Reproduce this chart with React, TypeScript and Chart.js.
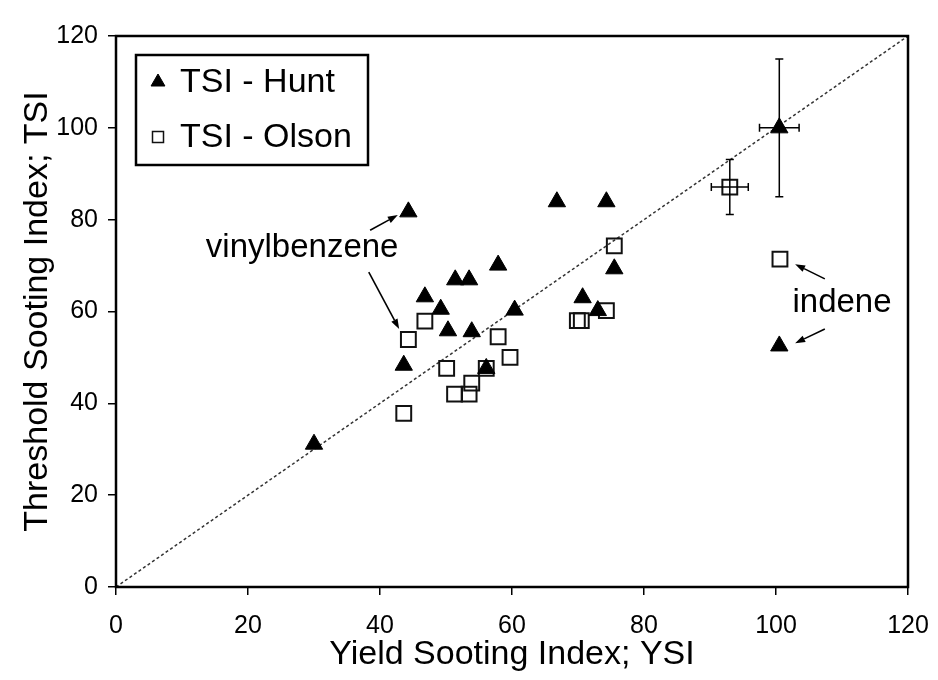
import React, { useEffect, useRef } from "react";
import { Chart, registerables } from "chart.js";

Chart.register(...registerables);

// ---- data ----
const seriesNames = ["TSI - Hunt", "TSI - Olson"];

const huntX = [30, 43.6, 44.3, 46.8, 49.2, 50.3, 51.4, 53.5, 53.9, 56.1, 57.9, 60.4, 66.8, 70.7, 73.0, 74.3, 75.5, 100.5, 100.5];
const huntY = [31.1, 48.3, 81.7, 63.2, 60.5, 55.8, 66.9, 66.9, 55.6, 47.6, 70.1, 60.3, 83.9, 63.0, 60.2, 83.9, 69.3, 100, 52.5];
const huntXErr = [0, 0, 0, 0, 0, 0, 0, 0, 0, 0, 0, 0, 0, 0, 0, 0, 0, 3, 0];
const huntYErr = [0, 0, 0, 0, 0, 0, 0, 0, 0, 0, 0, 0, 0, 0, 0, 0, 0, 15, 0];

const olsonX = [43.6, 44.3, 46.8, 50.1, 51.3, 53.5, 53.9, 56.1, 57.9, 59.7, 69.9, 70.5, 74.3, 75.5, 93.0, 100.6];
const olsonY = [37.8, 53.9, 57.9, 47.6, 42.0, 42.0, 44.4, 47.6, 54.5, 50.0, 58.0, 58.0, 60.2, 74.3, 87.1, 71.4];
const olsonXErr = [0, 0, 0, 0, 0, 0, 0, 0, 0, 0, 0, 0, 0, 0, 2.8, 0];
const olsonYErr = [0, 0, 0, 0, 0, 0, 0, 0, 0, 0, 0, 0, 0, 0, 6, 0];

const parityLine = [0, 120];

const xTicks = [0, 20, 40, 60, 80, 100, 120];
const yTicks = [0, 20, 40, 60, 80, 100, 120];

const xTitle = "Yield Sooting Index; YSI";
const yTitle = "Threshold Sooting Index; TSI";

const labelTexts = ["vinylbenzene", "indene"];
const labelXs = [28.2, 110];
const labelYs = [73.8, 61.9];

// arrows in data space: [fromX, fromY, toX, toY]
const arrowList = [
  [38.5, 77.7, 42.7, 81.0],
  [38.3, 68.6, 42.9, 56.2],
  [107.4, 67.1, 102.9, 70.3],
  [107.4, 56.2, 102.9, 53.1],
];

const FONT = "'Liberation Sans', Arial, Helvetica, sans-serif";

const toPts = (xs: number[], ys: number[]) => xs.map((x, i) => ({ x, y: ys[i] }));

const errorBarPlugin = {
  id: "errorBars",
  afterDatasetsDraw(chart: any) {
    const ctx = chart.ctx;
    const xs = chart.scales.x;
    const ys = chart.scales.y;
    const sets = [
      { x: huntX, y: huntY, ex: huntXErr, ey: huntYErr },
      { x: olsonX, y: olsonY, ex: olsonXErr, ey: olsonYErr },
    ];
    ctx.save();
    ctx.strokeStyle = "#000";
    ctx.lineWidth = 1.5;
    const cap = 4;
    sets.forEach((s) => {
      s.x.forEach((xv, i) => {
        const px = xs.getPixelForValue(xv);
        const py = ys.getPixelForValue(s.y[i]);
        if (s.ey[i]) {
          const t = ys.getPixelForValue(s.y[i] + s.ey[i]);
          const b = ys.getPixelForValue(s.y[i] - s.ey[i]);
          ctx.beginPath();
          ctx.moveTo(px, t);
          ctx.lineTo(px, b);
          ctx.moveTo(px - cap, t);
          ctx.lineTo(px + cap, t);
          ctx.moveTo(px - cap, b);
          ctx.lineTo(px + cap, b);
          ctx.stroke();
        }
        if (s.ex[i]) {
          const l = xs.getPixelForValue(xv - s.ex[i]);
          const r = xs.getPixelForValue(xv + s.ex[i]);
          ctx.beginPath();
          ctx.moveTo(l, py);
          ctx.lineTo(r, py);
          ctx.moveTo(l, py - cap);
          ctx.lineTo(l, py + cap);
          ctx.moveTo(r, py - cap);
          ctx.lineTo(r, py + cap);
          ctx.stroke();
        }
      });
    });
    ctx.restore();
  },
};

const framePlugin = {
  id: "frame",
  afterDraw(chart: any) {
    const { ctx, chartArea: a } = chart;
    ctx.save();
    ctx.strokeStyle = "#000";
    ctx.lineWidth = 2.5;
    ctx.strokeRect(a.left, a.top, a.right - a.left, a.bottom - a.top);
    ctx.restore();
  },
};

const annotationPlugin = {
  id: "annotations",
  afterDatasetsDraw(chart: any) {
    const ctx = chart.ctx;
    const xs = chart.scales.x;
    const ys = chart.scales.y;
    ctx.save();
    ctx.fillStyle = "#000";
    ctx.font = `33px ${FONT}`;
    ctx.textAlign = "center";
    ctx.textBaseline = "middle";
    labelTexts.forEach((t, i) => {
      ctx.fillText(t, xs.getPixelForValue(labelXs[i]), ys.getPixelForValue(labelYs[i]));
    });
    ctx.strokeStyle = "#000";
    ctx.lineWidth = 1.6;
    arrowList.forEach((a) => {
      const x1 = xs.getPixelForValue(a[0]);
      const y1 = ys.getPixelForValue(a[1]);
      const x2 = xs.getPixelForValue(a[2]);
      const y2 = ys.getPixelForValue(a[3]);
      const ang = Math.atan2(y2 - y1, x2 - x1);
      const hl = 10;
      const hw = 3.5;
      const bx = x2 - hl * Math.cos(ang);
      const by = y2 - hl * Math.sin(ang);
      ctx.beginPath();
      ctx.moveTo(x1, y1);
      ctx.lineTo(bx, by);
      ctx.stroke();
      ctx.beginPath();
      ctx.moveTo(x2, y2);
      ctx.lineTo(bx + hw * Math.sin(ang), by - hw * Math.cos(ang));
      ctx.lineTo(bx - hw * Math.sin(ang), by + hw * Math.cos(ang));
      ctx.closePath();
      ctx.fill();
    });
    ctx.restore();
  },
};

const legendPlugin = {
  id: "boxLegend",
  afterDraw(chart: any) {
    const { ctx, chartArea: a } = chart;
    const bx = a.left + 20;
    const by = a.top + 19;
    const bw = 232;
    const bh = 110;
    ctx.save();
    ctx.fillStyle = "#fff";
    ctx.fillRect(bx, by, bw, bh);
    ctx.strokeStyle = "#000";
    ctx.lineWidth = 2.5;
    ctx.strokeRect(bx, by, bw, bh);
    ctx.font = `34px ${FONT}`;
    ctx.textBaseline = "middle";
    ctx.textAlign = "left";
    ctx.fillStyle = "#000";
    const rows = [by + 27, by + 82];
    seriesNames.forEach((name, i) => {
      const ds = chart.data.datasets[i];
      const mx = bx + 22;
      const my = rows[i];
      ctx.save();
      ctx.lineWidth = ds.borderWidth;
      ctx.strokeStyle = ds.borderColor;
      ctx.fillStyle = ds.backgroundColor;
      if (ds.pointStyle === "triangle") {
        const r = 8;
        ctx.beginPath();
        ctx.moveTo(mx, my - r);
        ctx.lineTo(mx + r * 0.866, my + r * 0.5);
        ctx.lineTo(mx - r * 0.866, my + r * 0.5);
        ctx.closePath();
        ctx.fill();
        ctx.stroke();
      } else {
        const s = 11;
        ctx.lineWidth = 1.5;
        ctx.strokeRect(mx - s / 2, my - s / 2, s, s);
      }
      ctx.restore();
      ctx.fillStyle = "#000";
      ctx.fillText(name, bx + 44, my + 1);
    });
    ctx.restore();
  },
};

export default function App() {
  const ref = useRef<HTMLCanvasElement | null>(null);

  useEffect(() => {
    if (!ref.current) return;
    Chart.defaults.font.family = FONT;
    const chart = new Chart(ref.current, {
      type: "scatter",
      data: {
        datasets: [
          {
            label: seriesNames[0],
            data: toPts(huntX, huntY),
            pointStyle: "triangle",
            pointRadius: 10,
            pointHoverRadius: 10,
            backgroundColor: "#000",
            borderColor: "#000",
            borderWidth: 1,
          },
          {
            label: seriesNames[1],
            data: toPts(olsonX, olsonY),
            pointStyle: "rect",
            pointRadius: 10.5,
            pointHoverRadius: 10.5,
            backgroundColor: "rgba(0,0,0,0)",
            borderColor: "#111",
            borderWidth: 2,
          },
          {
            label: "parity",
            data: toPts(parityLine, parityLine),
            showLine: true,
            pointRadius: 0,
            borderColor: "#333",
            borderWidth: 1.5,
            borderDash: [3, 2.5],
            fill: false,
          } as any,
        ],
      },
      options: {
        animation: false,
        responsive: false,
        devicePixelRatio: 1,
        events: [],
        layout: { padding: { left: 0, right: 30, top: 36, bottom: 0 } },
        plugins: {
          legend: { display: false },
          tooltip: { enabled: false },
          title: { display: false },
        },
        scales: {
          x: {
            type: "linear",
            min: 0,
            max: 120,
            afterBuildTicks: (s: any) => {
              s.ticks = xTicks.map((v) => ({ value: v }));
            },
            afterFit: (s: any) => {
              s.height = 93;
              s.paddingLeft = 0;
              s.paddingRight = 0;
            },
            ticks: {
              color: "#000",
              font: { size: 25, family: FONT },
              padding: 16,
              maxRotation: 0,
            },
            grid: {
              drawOnChartArea: false,
              drawTicks: true,
              tickLength: 8,
              color: "#000",
              lineWidth: 1.5,
            },
            border: { display: false },
            title: {
              display: true,
              text: xTitle,
              color: "#000",
              font: { size: 34, family: FONT },
              padding: { top: 0, bottom: 5 },
            },
          },
          y: {
            type: "linear",
            min: 0,
            max: 120,
            afterBuildTicks: (s: any) => {
              s.ticks = yTicks.map((v) => ({ value: v }));
            },
            afterFit: (s: any) => {
              s.width = 116;
              s.paddingTop = 0;
              s.paddingBottom = 0;
            },
            ticks: {
              color: "#000",
              font: { size: 25, family: FONT },
              padding: 10,
            },
            grid: {
              drawOnChartArea: false,
              drawTicks: true,
              tickLength: 8,
              color: "#000",
              lineWidth: 1.5,
            },
            border: { display: false },
            title: {
              display: true,
              text: yTitle,
              color: "#000",
              font: { size: 34, family: FONT },
              padding: { top: 17, bottom: 0 },
            },
          },
        },
      } as any,
      plugins: [framePlugin, errorBarPlugin, annotationPlugin, legendPlugin],
    });
    return () => chart.destroy();
  }, []);

  return (
    <div style={{ position: "absolute", left: 0, top: 0, width: 938, height: 680, background: "#fff" }}>
      <canvas ref={ref} width={938} height={680} style={{ display: "block" }} />
    </div>
  );
}
